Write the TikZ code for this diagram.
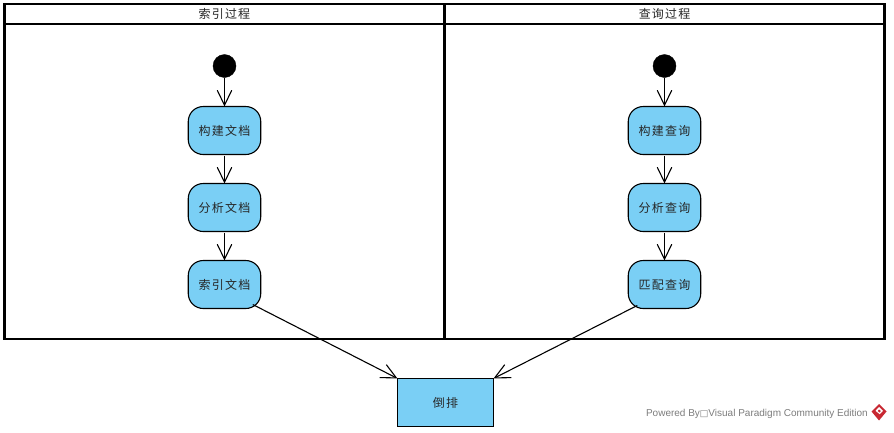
\documentclass[tikz,border=0pt]{standalone}
\usepackage{fontspec}
\setmainfont[LetterSpace=10]{Noto Sans CJK SC}
\newfontfamily\wmfont{Liberation Sans}
\newfontfamily\symfont{DejaVu Sans}
\usetikzlibrary{arrows.meta}
\definecolor{boxblue}{RGB}{122,207,245}
\definecolor{wmgray}{RGB}{125,125,125}
\definecolor{wmred}{RGB}{200,40,50}
\tikzset{
  lane/.style={draw=black,line width=2.6pt,inner sep=0pt,outer sep=0pt},
  lanehead/.style={lane,font=\fontsize{12}{14}\selectfont,text=black!85},
  action/.style={draw=black,line width=1.1pt,fill=boxblue,rounded corners=15pt,minimum width=72.5pt,minimum height=48pt,inner sep=0pt,outer sep=0pt,font=\fontsize{12}{14}\selectfont,text=black!85},
  startdot/.style={circle,fill=black,draw=black,minimum size=23pt,inner sep=0pt,outer sep=0pt},
  objbox/.style={draw=black,line width=1.1pt,fill=boxblue,minimum width=96pt,minimum height=48pt,inner sep=0pt,outer sep=0pt,font=\fontsize{12}{14}\selectfont,text=black!85},
  flow/.style={draw=black,line width=1.1pt,-{Straight Barb[length=15pt,width=14.5pt,line width=1.1pt]}},
}
\begin{document}
\begin{tikzpicture}[x=1pt,y=-1pt]
\useasboundingbox (0,0) rectangle (894,432);
\fill[white] (0,0) rectangle (894,432);
% swimlanes
\node[lane,minimum width=440pt,minimum height=315pt] (bodyA) at (224.4,181.5) {};
\node[lane,minimum width=440pt,minimum height=315pt] (bodyB) at (664.6,181.5) {};
\node[lanehead,minimum width=440pt,minimum height=20pt] (headA) at (224.4,14) {索引过程};
\node[lanehead,minimum width=440pt,minimum height=20pt] (headB) at (664.6,14) {查询过程};
% left lane
\node[startdot] (s1) at (224.5,66) {};
\node[action] (a1) at (224.5,130.5) {构建文档};
\node[action] (a2) at (224.5,207.5) {分析文档};
\node[action] (a3) at (224.5,284.5) {索引文档};
% right lane
\node[startdot] (s2) at (664.5,66) {};
\node[action] (b1) at (664.5,130.5) {构建查询};
\node[action] (b2) at (664.5,207.5) {分析查询};
\node[action] (b3) at (664.5,284.5) {匹配查询};
% object
\node[objbox] (inv) at (445.5,402.5) {倒排};
% connectors
\draw[flow] (s1) -- (a1);
\draw[flow] ([yshift=-1pt]a1.south) -- (a2.north);
\draw[flow] ([yshift=-1pt]a2.south) -- (a3.north);
\draw[flow] (s2) -- (b1);
\draw[flow] ([yshift=-1pt]b1.south) -- (b2.north);
\draw[flow] ([yshift=-1pt]b2.south) -- (b3.north);
\draw[flow] ([xshift=-8pt,yshift=4pt]a3.south east) -- (inv.north west);
\draw[flow] ([xshift=9pt,yshift=3pt]b3.south west) -- (inv.north east);
% watermark
\node[anchor=east,inner sep=0pt,text=wmgray,font=\fontsize{10}{12}\selectfont] (wm) at (868,413.5)
  {\wmfont\addfontfeatures{LetterSpace=0}Powered By{\symfont\fontsize{9}{10}\selectfont □}Visual Paradigm Community Edition};
\fill[wmred] (879,404) -- (886.5,411.5) -- (879,420.5) -- (871.5,411.5) -- cycle;
\fill[white] (879,407) -- (883,410.8) -- (879.7,414.2) -- (875.5,410.8) -- cycle;
\fill[wmred] (879,409.5) -- (880.8,411) -- (879.3,412.5) -- (877.8,411) -- cycle;
\end{tikzpicture}
\end{document}
